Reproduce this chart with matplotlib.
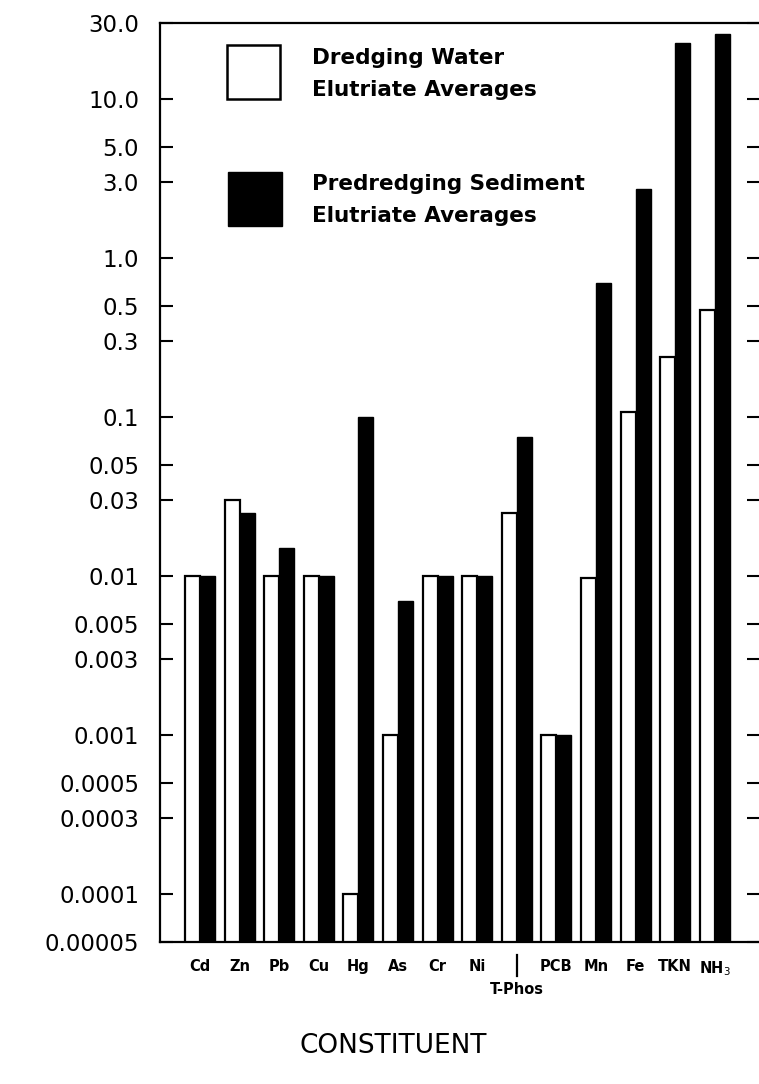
import matplotlib
matplotlib.use("Agg")
import matplotlib.pyplot as plt
import numpy as np
from matplotlib.patches import Rectangle

# ---- data ----
categories = ["Cd", "Zn", "Pb", "Cu", "Hg", "As", "Cr", "Ni", "T-Phos",
              "PCB", "Mn", "Fe", "TKN", "NH$_3$"]
dredging_water = [0.01, 0.03, 0.01, 0.01, 0.0001, 0.001, 0.01, 0.01, 0.025,
                  0.001, 0.0097, 0.107, 0.24, 0.47]
predredging_sediment = [0.01, 0.025, 0.015, 0.01, 0.1, 0.007, 0.01, 0.01, 0.075,
                        0.001, 0.70, 2.7, 22.5, 25.5]
ytick_values = [30, 10, 5, 3, 1, 0.5, 0.3, 0.1, 0.05, 0.03, 0.01, 0.005, 0.003,
                0.001, 0.0005, 0.0003, 0.0001, 0.00005]
ytick_labels = ["30.0", "10.0", "5.0", "3.0", "1.0", "0.5", "0.3", "0.1", "0.05",
                "0.03", "0.01", "0.005", "0.003", "0.001", "0.0005", "0.0003",
                "0.0001", "0.00005"]
lowered_label = "T-Phos"
legend_labels = ["Dredging Water\nElutriate Averages",
                 "Predredging Sediment\nElutriate Averages"]
xlabel = "CONSTITUENT"

W, H = 759, 1084
fig = plt.figure(figsize=(W / 100, H / 100), dpi=100)

# axes placement in pixels
left_px, right_px, top_px, bottom_px = 160, 759, 23, 942
ax = fig.add_axes([left_px / W, 1 - bottom_px / H,
                   (right_px - left_px) / W, (bottom_px - top_px) / H])
ax_h_px = bottom_px - top_px

x = np.arange(len(categories))
w = 0.38
ax.bar(x - w / 2, dredging_water, width=w, color="white", edgecolor="black",
       linewidth=1.6, zorder=2)
ax.bar(x + w / 2, predredging_sediment, width=w, color="black",
       edgecolor="black", linewidth=1.0, zorder=2)

ax.set_yscale("log")
ax.set_ylim(0.00005, 30)
spacing_px = 39.6
ax.set_xlim((left_px - 200) / spacing_px, (right_px - 200) / spacing_px)

ax.set_yticks(ytick_values)
ax.set_yticklabels(ytick_labels)
ax.yaxis.set_minor_locator(matplotlib.ticker.NullLocator())
ax.tick_params(axis="y", which="major", direction="in", length=9, width=1.5,
               left=True, right=True, labelsize=16.5, pad=15)

# x labels drawn as texts: one row, T-Phos lowered with a bar above it
ax.set_xticks([])
trans = ax.get_xaxis_transform()
row1 = -(959 - bottom_px) / ax_h_px
row2 = -(982 - bottom_px) / ax_h_px
for xi, lab in zip(x, categories):
    yy = row2 if lab == lowered_label else row1
    ax.text(xi, yy, lab, transform=trans, ha="center", va="top",
            fontsize=10.5, fontweight="bold", clip_on=False)
    if lab == lowered_label:
        ax.plot([xi, xi], [-(955 - bottom_px) / ax_h_px, -(976 - bottom_px) / ax_h_px],
                transform=trans, color="black", lw=1.6, clip_on=False)

for s in ["left", "top", "bottom"]:
    ax.spines[s].set_linewidth(1.6)
ax.spines["right"].set_visible(False)

# legend (hand-drawn as in the original)
def fig_rect(x0, y0, x1, y1, **kw):
    r = Rectangle((x0 / W, 1 - y1 / H), (x1 - x0) / W, (y1 - y0) / H,
                  transform=fig.transFigure, **kw)
    fig.add_artist(r)

fig_rect(227, 45, 280, 99, facecolor="white", edgecolor="black", linewidth=1.8)
fig_rect(228, 172, 282, 226, facecolor="black", edgecolor="black", linewidth=1.0)
fig.text(312 / W, 1 - 74 / H, legend_labels[0], fontsize=15.5, fontweight="bold",
         va="center", ha="left", linespacing=1.75)
fig.text(312 / W, 1 - 200 / H, legend_labels[1], fontsize=15.5, fontweight="bold",
         va="center", ha="left", linespacing=1.75)

fig.text(393 / W, 1 - 1046 / H, xlabel, fontsize=19, ha="center", va="center")

fig.savefig("out.png", dpi=100)
